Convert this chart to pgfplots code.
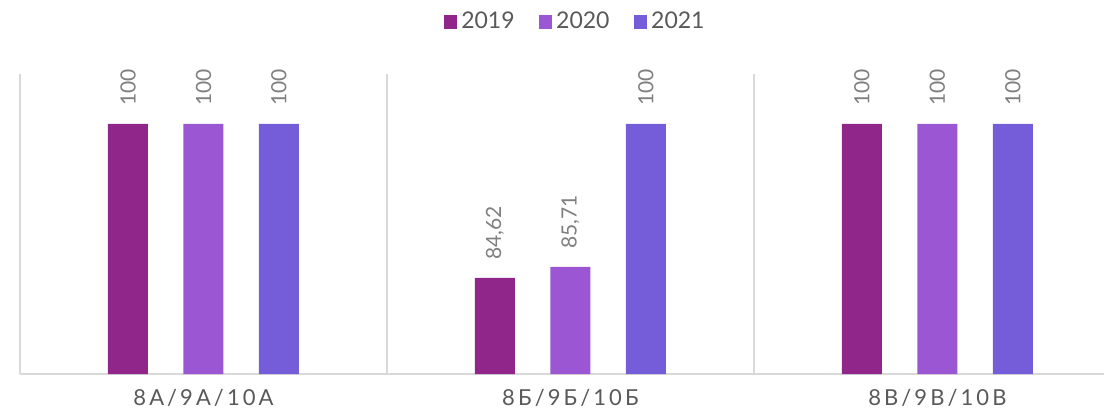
\documentclass[border=0pt]{standalone}
\usepackage{fontspec}
\setmainfont{Lato}
\usepackage{pgfplots}
\pgfplotsset{compat=1.18}
\definecolor{cA}{HTML}{90268A}
\definecolor{cB}{HTML}{9B57D3}
\definecolor{cC}{HTML}{755DD9}
\definecolor{txt}{HTML}{595959}
\definecolor{lbl}{HTML}{7F7F7F}
\definecolor{grd}{HTML}{D9D9D9}
\begin{document}
\begin{tikzpicture}
\useasboundingbox (-10pt,-19.5pt) rectangle (542pt,187pt);
\begin{axis}[
  scale only axis, width=542pt, height=150pt,
  xmin=-0.5, xmax=2.454, ymin=75, ymax=105,
  axis y line=none,
  axis x line*=bottom,
  x axis line style={draw=grd, line width=0.8pt, -},
  xtick={0,1,2},
  xticklabels={8А/9А/10А,8Б/9Б/10Б,8В/9В/10В},
  xticklabel style={font=\fontsize{11}{13}\selectfont\addfontfeature{LetterSpace=14}, text=txt, yshift=-4pt},
  major tick length=0pt,
  extra x ticks={-0.5,0.5,1.5},
  extra x tick labels={},
  extra x tick style={grid=major, major grid style={draw=grd, line width=0.8pt}, major tick length=0pt},
  ybar=0pt, bar width=0.109,
  /pgf/number format/assume math mode=true,
  nodes near coords={\pgfmathprintnumber[use comma,fixed,precision=2]{\pgfplotspointmeta}},
  every node near coord/.append style={rotate=90, anchor=west, inner xsep=9pt, inner ysep=0pt, text=lbl, font=\fontsize{10.5}{12}\selectfont},
  legend style={at={(0.513,1.173)}, anchor=center, draw=none, fill=none, legend columns=3,
    font=\fontsize{11.5}{13}\selectfont, text=txt,
    /tikz/every even column/.append style={column sep=10pt}},
  legend image code/.code={\fill[#1] (0pt,-3.4pt) rectangle (6.8pt,3.4pt);},
  clip=true,
]
\addplot[fill=cA, draw=none, bar shift=-0.2057] coordinates {(0,100) (1,84.62) (2,100)};
\addplot[fill=cB, draw=none, bar shift=0] coordinates {(0,100) (1,85.71) (2,100)};
\addplot[fill=cC, draw=none, bar shift=0.2057] coordinates {(0,100) (1,100) (2,100)};
\legend{2019,2020,2021}
\end{axis}
\end{tikzpicture}
\end{document}
